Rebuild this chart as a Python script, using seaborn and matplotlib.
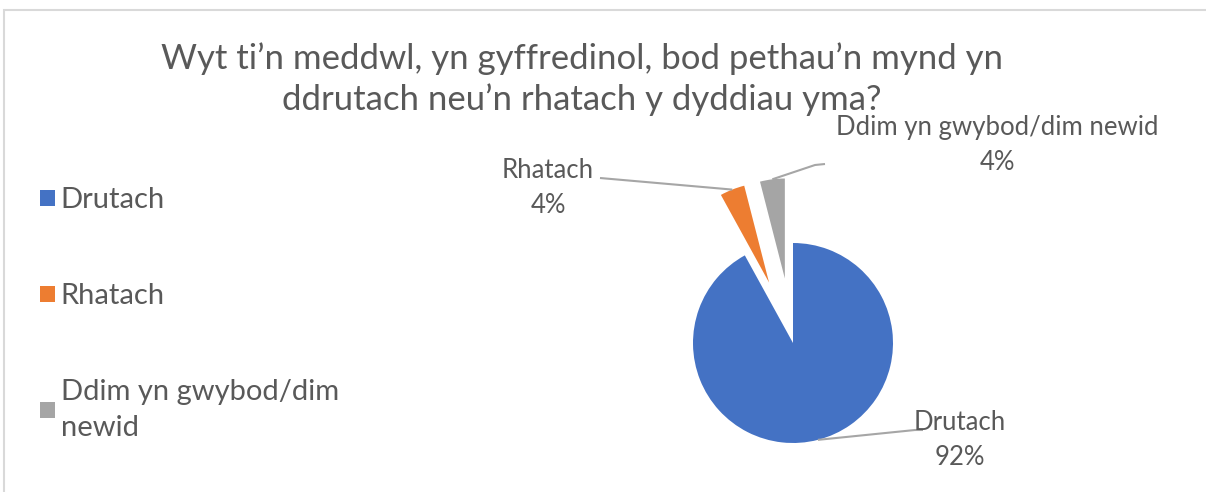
import numpy as np
import matplotlib
matplotlib.use("Agg")
import matplotlib.pyplot as plt
from matplotlib.patches import Rectangle, Patch
import seaborn as sns

# data
categories = ["Drutach", "Rhatach", "Ddim yn gwybod/dim newid"]
legend_labels = ["Drutach", "Rhatach", "Ddim yn gwybod/dim\nnewid"]
values = [92, 4, 4]
title = "Wyt ti\u2019n meddwl, yn gyffredinol, bod pethau\u2019n mynd yn\nddrutach neu\u2019n rhatach y dyddiau yma?"

colors = ["#4472C4", "#ED7D31", "#A5A5A5"]
explode = [0, 0.65, 0.65]
txt_col = "#595959"
line_col = "#A6A6A6"

sns.set_theme(style="white")
plt.rcParams["font.family"] = ["Lato", "DejaVu Sans"]

fig = plt.figure(figsize=(12.06, 4.92), dpi=100)

# chart border (runs off the right and bottom edges)
fig.add_artist(Rectangle((4 / 1206, -0.2), 1.2, 1.2 - 10 / 492,
                         transform=fig.transFigure, fill=False,
                         edgecolor="#D9D9D9", linewidth=1.5))

# pie axes: centre at (793, 343) px, radius 100 px
ax = fig.add_axes([593 / 1206, (492 - 543) / 492, 400 / 1206, 400 / 492])
wedges, _ = ax.pie(values, colors=colors, explode=explode, startangle=90,
                   counterclock=False, radius=1.0,
                   wedgeprops=dict(linewidth=0))
ax.set_xlim(-2, 2)
ax.set_ylim(-2, 2)
ax.set_aspect("auto")
ax.axis("off")

# data labels with leader lines
elbows = [(1.22, -0.87), (-1.93, 1.65), (0.22, 1.78)]
tails = [(1.30, -0.87), (-1.93, 1.65), (0.32, 1.79)]
text_pos = [(1.67, -0.97), (-2.45, 1.55), (2.04, 1.98)]
for w, e, t, tp, cat, v in zip(wedges, elbows, tails, text_pos, categories, values):
    ang = np.deg2rad((w.theta1 + w.theta2) / 2)
    cx, cy = w.center
    px, py = cx + w.r * np.cos(ang), cy + w.r * np.sin(ang)
    ax.plot([px, e[0], t[0]], [py, e[1], t[1]], color=line_col, lw=1.5,
            clip_on=False, solid_capstyle="butt")
    ax.text(tp[0], tp[1], f"{cat}\n{v}%", ha="center", va="center",
            fontsize=18.5, color=txt_col, linespacing=1.5, clip_on=False)

fig.text(582 / 1206, 1 - 79 / 492, title, ha="center", va="center",
         fontsize=25, color=txt_col, linespacing=1.32)

handles = [Patch(facecolor=c, edgecolor="none") for c in colors]
leg = fig.legend(handles, legend_labels, loc="upper left",
                 bbox_to_anchor=(14 / 1206, 1 - 161 / 492), frameon=False,
                 fontsize=21, labelcolor=txt_col, handlelength=0.5,
                 handleheight=0.5, handletextpad=0.2, labelspacing=2.4)
for t in leg.get_texts():
    t.set_linespacing(1.45)

fig.savefig("out.png", dpi=100)
